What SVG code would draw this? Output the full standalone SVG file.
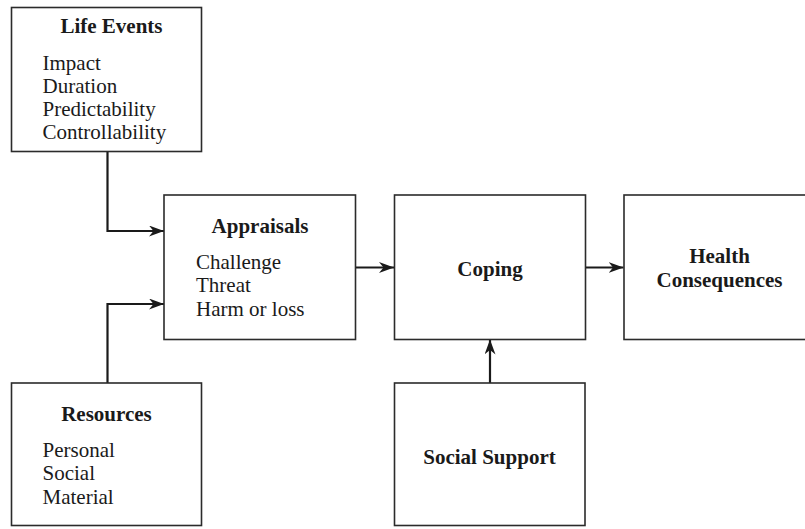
<svg xmlns="http://www.w3.org/2000/svg" width="805" height="529" viewBox="0 0 805 529">
  <style>
    .box { fill: #fff; stroke: #2b2b2b; stroke-width: 1.6; }
    .title { font-family: "Liberation Serif", "Times New Roman", serif; font-weight: bold; font-size: 21px; fill: #1a1a1a; text-anchor: middle; }
    .item { font-family: "Liberation Serif", "Times New Roman", serif; font-size: 21px; fill: #1a1a1a; }
    .link { fill: none; stroke: #1a1a1a; stroke-width: 2.2; marker-end: url(#head); }
  </style>
  <defs>
    <marker id="head" viewBox="0 0 15 11" refX="15" refY="5.5" markerWidth="15" markerHeight="11" markerUnits="userSpaceOnUse" orient="auto">
      <path d="M0,0 L15,5.5 L0,11 L4.5,5.5 Z" fill="#1a1a1a"/>
    </marker>
  </defs>
  <rect width="805" height="529" fill="#fff"/>

  <g id="connectors">
    <path class="link" d="M107.5,152 V231 H164"/>
    <path class="link" d="M107.5,383 V304 H164"/>
    <path class="link" d="M356,267.5 H394"/>
    <path class="link" d="M585.5,267.5 H623.5"/>
    <path class="link" d="M490,383 V339.5"/>
  </g>

  <g id="life-events">
    <rect class="box" x="11.5" y="7.5" width="190" height="144"/>
    <text class="title" x="111.5" y="33">Life Events</text>
    <text class="item" x="42.5" y="69.5">Impact</text>
    <text class="item" x="42.5" y="92.5">Duration</text>
    <text class="item" x="42.5" y="115.5">Predictability</text>
    <text class="item" x="42.5" y="138.5">Controllability</text>
  </g>

  <g id="appraisals">
    <rect class="box" x="164" y="195" width="191.5" height="144.5"/>
    <text class="title" x="260" y="232.5">Appraisals</text>
    <text class="item" x="196" y="268.5">Challenge</text>
    <text class="item" x="196" y="292">Threat</text>
    <text class="item" x="196" y="316">Harm or loss</text>
  </g>

  <g id="coping">
    <rect class="box" x="394.5" y="195" width="191" height="144.5"/>
    <text class="title" x="490" y="275.5">Coping</text>
  </g>

  <g id="health-consequences">
    <rect class="box" x="624" y="195" width="200" height="144.5"/>
    <text class="title" x="719.5" y="262.5">Health</text>
    <text class="title" x="719.5" y="286.5">Consequences</text>
  </g>

  <g id="resources">
    <rect class="box" x="11.5" y="383" width="190" height="142.5"/>
    <text class="title" x="106.5" y="420.5">Resources</text>
    <text class="item" x="42.5" y="456.5">Personal</text>
    <text class="item" x="42.5" y="480">Social</text>
    <text class="item" x="42.5" y="504">Material</text>
  </g>

  <g id="social-support">
    <rect class="box" x="394.5" y="383" width="190.5" height="142.5"/>
    <text class="title" x="489.5" y="463.5">Social Support</text>
  </g>
</svg>
